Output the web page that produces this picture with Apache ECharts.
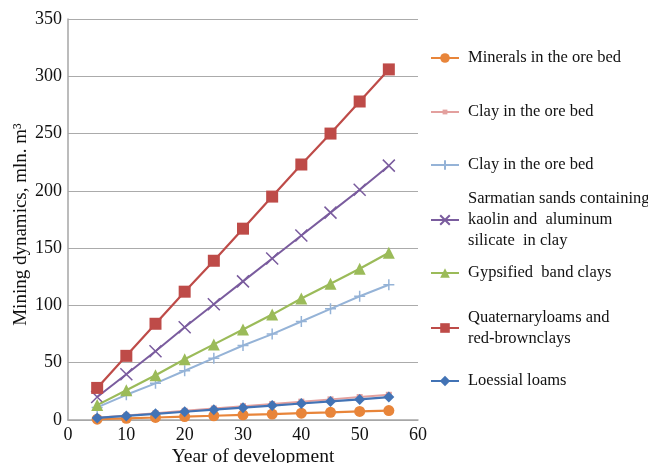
<!DOCTYPE html>
<html><head><meta charset="utf-8">
<script src="https://cdn.jsdelivr.net/npm/echarts@6/dist/echarts.min.js"></script>
<style>html,body{margin:0;padding:0;background:#fff}#c{width:648px;height:463px}</style>
</head><body><div id="c"></div>
<script>
var years = [5, 10, 15, 20, 25, 30, 35, 40, 45, 50, 55];
var seriesNames = [
  "Minerals in the ore bed",
  "Clay in the ore bed",
  "Clay in the ore bed ",
  "Sarmatian sands containing\nkaolin and  aluminum\nsilicate  in clay",
  "Gypsified  band clays",
  "Quaternaryloams and\nred-brownclays",
  "Loessial loams"
];
var minerals   = [0.7, 1.5, 2.2, 3.0, 3.7, 4.5, 5.2, 6.0, 6.7, 7.5, 8.2];
var clayPink   = [2, 4, 6, 8, 10, 12, 14, 16, 18, 20, 22];
var clayBlue   = [11, 22, 32, 43, 54, 65, 75, 86, 97, 108, 118];
var sarmatian  = [20, 40, 60, 81, 101, 121, 141, 161, 181, 201, 222];
var gypsified  = [13, 26, 39, 53, 66, 79, 92, 106, 119, 132, 146];
var quaternary = [28, 56, 84, 112, 139, 167, 195, 223, 250, 278, 306];
var loessial   = [1.8, 3.6, 5.4, 7.2, 9.0, 10.8, 12.6, 14.4, 16.2, 18.0, 20.0];
var yTicks = [0, 50, 100, 150, 200, 250, 300, 350];
var xTicks = [0, 10, 20, 30, 40, 50, 60];

var allValues = [minerals, clayPink, clayBlue, sarmatian, gypsified, quaternary, loessial];
var colors = ["#E8853A", "#E3A09E", "#95B3D7", "#7A5C9E", "#9BBB59", "#BE4B48", "#4273B5"];
var symbols = ["circle", "rect", "path://M5,0L5,10M0,5L10,5", "path://M0,0L10,10M10,0L0,10", "triangle", "rect", "diamond"];
var symbolSizes = [11, 6, 11, 12, 12, 12, 11];
var lineWidths = [2.2, 2, 2, 2, 2.2, 2.2, 2.2];
var legendCY = [58, 112, 165, 220, 273, 328, 381];
var legendLines = [1, 1, 1, 3, 1, 2, 1];
var legendIconH = [12, 6, 12, 12, 12, 12, 13];

var font = "Liberation Serif";
function pairs(vals){ return years.map(function(y,i){ return [y, vals[i]]; }); }

var series = allValues.map(function(v, i){
  var isStroke = (i === 2 || i === 3);
  return {
    type: 'line', name: seriesNames[i], data: pairs(v),
    symbol: symbols[i], symbolSize: symbolSizes[i], showSymbol: true,
    lineStyle: {color: colors[i], width: lineWidths[i]},
    itemStyle: {color: colors[i], borderColor: colors[i], borderWidth: isStroke ? 1.5 : 0},
    z: 2 + i, animation: false
  };
});

var legends = seriesNames.map(function(n, i){
  var h = legendLines[i] * 21;
  return {
    data: [n], left: 430, top: legendCY[i] - h / 2, padding: 0,
    itemWidth: 28, itemHeight: legendIconH[i], selectedMode: false,
    textStyle: {fontFamily: font, fontSize: 16.5, color: '#111', lineHeight: 21, padding: [0,0,0,4]}
  };
});

var chart = echarts.init(document.getElementById('c'), null, {renderer: 'canvas'});
chart.setOption({
  animation: false,
  backgroundColor: '#fff',
  grid: {left: 68, right: 230, top: 19, bottom: 43, containLabel: false, outerBoundsMode: 'none'},
  legend: legends,
  xAxis: {
    type: 'value', min: xTicks[0], max: xTicks[xTicks.length-1], interval: 10,
    name: 'Year of development', nameLocation: 'middle', nameGap: 27, nameMoveOverlap: false,
    nameTextStyle: {fontFamily: font, fontSize: 19.5, color: '#111', padding: [0,0,0,20]},
    axisLine: {lineStyle: {color: '#A6A6A6', width: 1.5}},
    axisTick: {show: false}, splitLine: {show: false},
    axisLabel: {fontFamily: font, fontSize: 18, color: '#111', margin: 6}
  },
  yAxis: {
    type: 'value', min: yTicks[0], max: yTicks[yTicks.length-1], interval: 50,
    name: 'Mining dynamics, mln. m\u00B3', nameLocation: 'middle', nameGap: 37, nameMoveOverlap: false,
    nameTextStyle: {fontFamily: font, fontSize: 19, color: '#111', padding: [0,10,0,0]},
    axisLine: {show: true, lineStyle: {color: '#A6A6A6', width: 1.5}},
    axisTick: {show: false},
    splitLine: {lineStyle: {color: '#ABABAB', width: 1.2}},
    axisLabel: {fontFamily: font, fontSize: 18, color: '#111', margin: 6}
  },
  series: series
});
</script></body></html>
